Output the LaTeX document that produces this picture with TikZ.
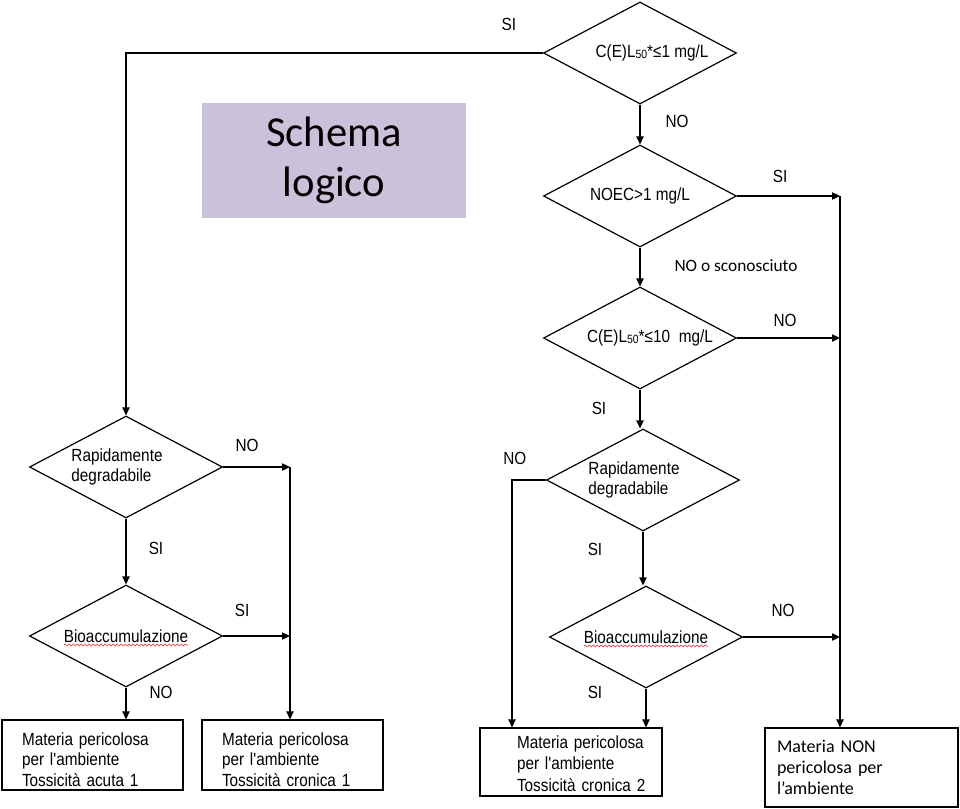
\documentclass[tikz,border=0pt]{standalone}
\usepackage{fontspec}
\newfontfamily\arial{Liberation Sans}[FakeStretch=0.87]
\newfontfamily\calibri{Carlito}
\usetikzlibrary{arrows.meta,shapes.geometric,decorations.pathmorphing}
\definecolor{schemafill}{RGB}{204,193,218}
\definecolor{spellred}{RGB}{225,45,45}
\newcommand{\lfifty}{\raisebox{-1pt}{\fontsize{9}{9}\selectfont 50}}

\begin{document}
\begin{tikzpicture}[x=0.75pt,y=-0.75pt,>={Triangle[length=6pt,width=5.5pt]},line width=0.9pt,
    font=\arial\fontsize{13.2}{15.4}\selectfont,
    decision/.style={draw,diamond,aspect=2,inner sep=0pt,minimum width=144.75pt,minimum height=76.5pt,align=left},
    outcome/.style={draw,rectangle,align=left,inner ysep=0pt,text height=10pt},
    lbl/.style={inner sep=0pt},
    spell/.style={spellred,line width=0.4pt,decorate,decoration={snake,amplitude=0.7pt,segment length=3pt}}]
    \useasboundingbox (0,0) rectangle (960,808);
    \node[fill=schemafill,minimum width=198pt,minimum height=86.25pt,align=center,font=\calibri\fontsize{32}{37}\selectfont] (title) at (334,160.5) {Schema\\logico};
    \node[decision] (le1) at (640,53) {\hspace*{18pt}C(E)L\lfifty*≤1 mg/L};
    \node[decision] (noec) at (640,196) {NOEC>1 mg/L};
    \node[decision] (le10) at (640,338) {\hspace*{15pt}C(E)L\lfifty*≤10\hspace{0.5em}mg/L};
    \node[decision] (rd2) at (643,480) {Rapidamente\hspace*{13.5pt}\\degradabile};
    \node[decision] (bio2) at (646,637) {Bioaccumulazione};
    \node[decision] (rd1) at (126,467) {Rapidamente\hspace*{13.5pt}\\degradabile};
    \node[decision] (bio1) at (126,636) {Bioaccumulazione};
    \node[outcome,minimum width=135.75pt,minimum height=52.5pt,text width=105.75pt,inner xsep=15pt,text depth=25pt] (acute1) at (92.5,755) {Materia pericolosa\\per l'ambiente\\Tossicità acuta 1};
    \node[outcome,minimum width=135.75pt,minimum height=52.5pt,text width=105.75pt,inner xsep=15pt,text depth=25pt] (chronic1) at (292.5,755) {Materia pericolosa\\per l'ambiente\\Tossicità cronica 1};
    \node[outcome,minimum width=136.5pt,minimum height=51pt,text width=81pt,inner xsep=27.75pt,text depth=31pt,font=\arial\fontsize{13.2}{16.2}\selectfont] (chronic2) at (571,762) {\mbox{Materia pericolosa}\\\mbox{per l'ambiente}\\\mbox{Tossicità cronica 2}};
    \node[outcome,minimum width=144.75pt,minimum height=59.25pt,text width=126.75pt,inner xsep=9pt,text depth=33pt,font=\calibri\fontsize{13.5}{16}\selectfont] (nonhaz) at (861.5,767.5) {Materia NON\\pericolosa per\\l’ambiente};
    \coordinate (jr) at (840,196);
    \coordinate (jl) at (290,467);
    \coordinate (jc) at (512,480);
    \draw[->] (le1.west) node[lbl,shift={(-34,-29)}] {SI} -| (rd1.north);
    \draw[->] (le1.south) node[lbl,shift={(37,17)}] {NO} -- (noec.north);
    \draw[->] (noec.east) node[lbl,shift={(43,-20)}] {SI} -- (jr);
    \draw[->] (jr) -- (jr |- nonhaz.north);
    \draw[->] (noec.south) node[lbl,font=\calibri\fontsize{13}{15}\selectfont,shift={(96,18)}] {NO o sconosciuto} -- (le10.north);
    \draw[->] (le10.east) node[lbl,shift={(48,-18)}] {NO} -- (le10.east -| jr);
    \draw[->] (le10.south) node[lbl,shift={(-41,19)}] {SI} -- (le10.south |- rd2.north);
    \draw[->] (rd2.west) node[lbl,shift={(-31,-22)}] {NO} -| (jc |- chronic2.north);
    \draw[->] (rd2.south) node[lbl,shift={(-48,18)}] {SI} -- (rd2.south |- bio2.north);
    \draw[->] (bio2.east) node[lbl,shift={(40,-27)}] {NO} -- (bio2.east -| jr);
    \draw[->] (bio2.south) node[lbl,shift={(-51,4)}] {SI} -- (bio2.south |- chronic2.north);
    \draw[->] (rd1.east) node[lbl,shift={(24,-22)}] {NO} -- (jl);
    \draw[->] (jl) -- (jl |- chronic1.north);
    \draw[->] (rd1.south) node[lbl,shift={(30,30)}] {SI} -- (bio1.north);
    \draw[->] (bio1.east) node[lbl,shift={(19,-26)}] {SI} -- (bio1.east -| jl);
    \draw[->] (bio1.south) node[lbl,shift={(35,5)}] {NO} -- (bio1.south |- acute1.north);
    \draw[spell] ([shift={(-62,9)}]bio1.center) -- ([shift={(62,9)}]bio1.center);
    \draw[spell] ([shift={(-62,9)}]bio2.center) -- ([shift={(62,9)}]bio2.center);
\end{tikzpicture}
\end{document}
